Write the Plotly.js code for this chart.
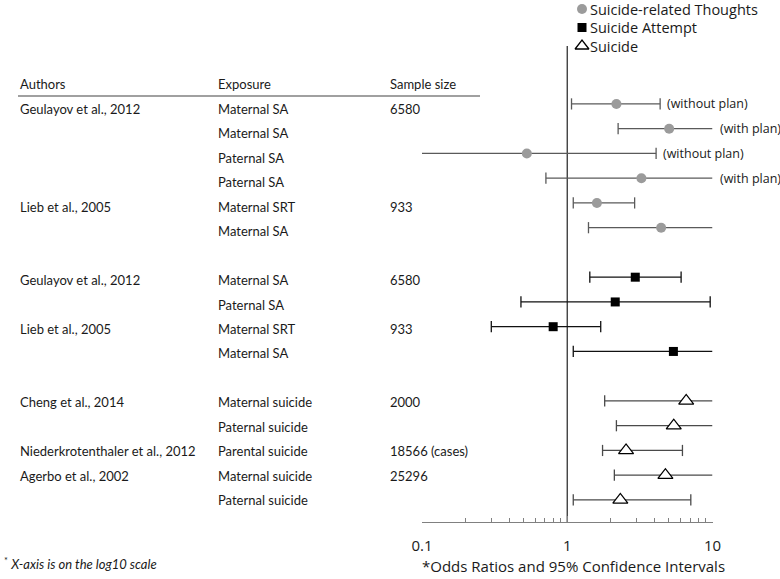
<!DOCTYPE html>
<html>
<head>
<meta charset="utf-8">
<script src="https://cdn.plot.ly/plotly-3.0.1.min.js"></script>
<style>html,body{margin:0;padding:0;background:#fff;}#chart{width:780px;height:579px;}</style>
</head>
<body>
<div id="chart"></div>
<script>
// ---- Data ----
const authors = ["Geulayov et al., 2012", "", "", "", "Lieb et al., 2005", "", "",
  "Geulayov et al., 2012", "", "Lieb et al., 2005", "", "",
  "Cheng et al., 2014", "", "Niederkrotenthaler et al., 2012", "Agerbo et al., 2002", ""];
const exposures = ["Maternal SA", "Maternal SA", "Paternal SA", "Paternal SA", "Maternal SRT", "Maternal SA", "",
  "Maternal SA", "Paternal SA", "Maternal SRT", "Maternal SA", "",
  "Maternal suicide", "Paternal suicide", "Parental suicide", "Maternal suicide", "Paternal suicide"];
const sampleSizes = ["6580", "", "", "", "933", "", "",
  "6580", "", "933", "", "",
  "2000", "", "18566 (cases)", "25296", ""];
const headers = ["Authors", "Exposure", "Sample size"];
const seriesNames = ["Suicide-related Thoughts", "Suicide Attempt", "Suicide"];

// Suicide-related thoughts (rows 1-6)
const thoughtRows = [1, 2, 3, 4, 5, 6];
const thoughtOR = [2.18, 5.03, 0.527, 3.24, 1.60, 4.43];
const thoughtLo = [1.07, 2.24, 0.10, 0.713, 1.10, 1.40];
const thoughtHi = [4.36, 10, 4.09, 10, 2.91, 10];
const thoughtLoCap = [true, true, false, true, true, true];
const thoughtHiCap = [true, false, true, false, true, false];
const thoughtNotes = ["(without plan)", "(with plan)", "(without plan)", "(with plan)", "", ""];

// Suicide attempt (rows 8-11)
const attemptRows = [8, 9, 10, 11];
const attemptOR = [2.94, 2.14, 0.80, 5.38];
const attemptLo = [1.43, 0.48, 0.30, 1.10];
const attemptHi = [6.08, 9.64, 1.70, 10];
const attemptLoCap = [true, true, true, true];
const attemptHiCap = [true, true, true, false];

// Suicide (rows 13-17)
const suicideRows = [13, 14, 15, 16, 17];
const suicideOR = [6.59, 5.41, 2.54, 4.74, 2.32];
const suicideLo = [1.81, 2.18, 1.75, 2.11, 1.10];
const suicideHi = [10, 10, 6.21, 10, 7.09];
const suicideLoCap = [true, true, true, true, true];
const suicideHiCap = [false, false, true, false, true];

const xTickVals = [0.1, 1, 10];
const xTickText = ["0.1", "1", "10"];
const xMinorVals = [0.2, 0.3, 0.4, 0.5, 0.6, 0.7, 0.8, 0.9, 2, 3, 4, 5, 6, 7, 8, 9];
const xTitle = "*Odds Ratios and 95% Confidence Intervals";
const footnote = "X-axis is on the log10 scale";

// ---- Layout constants ----
const W = 780, H = 579;
const plotTop = 46, plotBottom = 522;        // pixel rows of the forest-plot area
const yTop = -1.34, yBot = 17.89;
const tableFont = "Lato, 'Liberation Sans', Arial, sans-serif";
const sansFont = "'Open Sans', 'DejaVu Sans', sans-serif";

const styles = {
  thought: {line: '#5a5a5a', marker: {symbol: 'circle', size: 10, color: '#9b9b9b'}},
  attempt: {line: '#111111', marker: {symbol: 'square', size: 9, color: '#000000'}},
  suicide: {line: '#4a4a4a', marker: {symbol: 'triangle-up', size: 13, color: '#ffffff', line: {color: '#000000', width: 1.3}}}
};

function ciTraces(rows, lo, hi, loCap, hiCap, color) {
  const lx = [], ly = [], cx = [], cy = [];
  rows.forEach((r, i) => {
    lx.push(lo[i], hi[i], null); ly.push(r, r, null);
    if (loCap[i]) { cx.push(lo[i]); cy.push(r); }
    if (hiCap[i]) { cx.push(hi[i]); cy.push(r); }
  });
  return [
    {x: lx, y: ly, type: 'scatter', mode: 'lines', line: {color: color, width: 1.3},
     showlegend: false, hoverinfo: 'skip', cliponaxis: false},
    {x: cx, y: cy, type: 'scatter', mode: 'markers',
     marker: {symbol: 'line-ns', size: 8, line: {color: color, width: 1.3}},
     showlegend: false, hoverinfo: 'skip', cliponaxis: false}
  ];
}

const traces = [];
// reference line at OR = 1
traces.push({x: [1, 1], y: [yTop, yBot], type: 'scatter', mode: 'lines',
  line: {color: '#333333', width: 1.3}, showlegend: false, hoverinfo: 'skip'});
traces.push(...ciTraces(thoughtRows, thoughtLo, thoughtHi, thoughtLoCap, thoughtHiCap, styles.thought.line));
traces.push(...ciTraces(attemptRows, attemptLo, attemptHi, attemptLoCap, attemptHiCap, styles.attempt.line));
traces.push(...ciTraces(suicideRows, suicideLo, suicideHi, suicideLoCap, suicideHiCap, styles.suicide.line));

traces.push({x: thoughtOR, y: thoughtRows, type: 'scatter', mode: 'markers', name: seriesNames[0],
  marker: styles.thought.marker, cliponaxis: false, showlegend: false});
traces.push({x: attemptOR, y: attemptRows, type: 'scatter', mode: 'markers', name: seriesNames[1],
  marker: styles.attempt.marker, cliponaxis: false, showlegend: false});
traces.push({x: suicideOR, y: suicideRows, type: 'scatter', mode: 'markers', name: seriesNames[2],
  marker: styles.suicide.marker, cliponaxis: false, showlegend: false});

// ---- Legend (drawn on a full-page pixel-unit axis pair) ----
const legendX = 582, legendY0 = 9, legendStep = 18.5;
const legendMarkers = [styles.thought.marker, styles.attempt.marker,
  Object.assign({}, styles.suicide.marker, {size: 12})];
legendMarkers.forEach((mk, i) => {
  traces.push({x: [legendX], y: [legendY0 + i * legendStep], xaxis: 'x2', yaxis: 'y2',
    type: 'scatter', mode: 'markers', marker: mk, name: seriesNames[i], showlegend: false,
    cliponaxis: false, hoverinfo: 'skip'});
});

// ---- Annotations (table) ----
const annotations = [];
const colX = [18, 216, 388];
const tSize = 13;
function tableShift(row) { return -5 + (row - 1) * 0.3; }
headers.forEach((h, c) => {
  annotations.push({text: h, x: colX[c] / W, xref: 'paper', xanchor: 'left', y: 0, yref: 'y',
    yanchor: 'middle', yshift: tableShift(0), showarrow: false, font: {family: tableFont, size: tSize, color: '#1a1a1a'}});
});
[authors, exposures, sampleSizes].forEach((col, c) => {
  col.forEach((t, i) => {
    if (!t) return;
    const row = i + 1;
    annotations.push({text: t, x: colX[c] / W, xref: 'paper', xanchor: 'left', y: row, yref: 'y',
      yanchor: 'middle', yshift: tableShift(row), showarrow: false, font: {family: tableFont, size: tSize, color: '#1a1a1a'}});
  });
});
thoughtNotes.forEach((t, i) => {
  if (!t) return;
  annotations.push({text: t, x: Math.log10(thoughtHi[i]), xref: 'x', xanchor: 'left', xshift: 5,
    y: thoughtRows[i], yref: 'y', yanchor: 'middle', showarrow: false,
    font: {family: sansFont, size: 12.5, color: '#1a1a1a'}});
});
seriesNames.forEach((n, i) => {
  annotations.push({text: n, x: legendX + 7, xref: 'x2', xanchor: 'left', y: legendY0 + i * legendStep, yref: 'y2',
    yanchor: 'middle', borderpad: 0, showarrow: false, font: {family: sansFont, size: 14.5, color: '#1a1a1a'}});
});
annotations.push({text: xTitle, x: 573, xref: 'x2', xanchor: 'center', y: 566, yref: 'y2', yanchor: 'middle',
  showarrow: false, font: {family: sansFont, size: 15, color: '#1a1a1a'}});
annotations.push({text: '<sup>*</sup> <i>' + footnote + '</i>', x: 2, xref: 'x2', xanchor: 'left',
  y: 563, yref: 'y2', yanchor: 'middle', showarrow: false,
  font: {family: tableFont, size: 13, color: '#1a1a1a'}});

const layout = {
  width: W, height: H,
  margin: {l: 0, r: 0, t: 0, b: 0},
  paper_bgcolor: '#ffffff', plot_bgcolor: 'rgba(0,0,0,0)',
  showlegend: false,
  xaxis: {type: 'log', range: [-1, 1], domain: [422 / W, 712.5 / W], anchor: 'y',
    showgrid: false, zeroline: false, showline: true, linecolor: '#808080', linewidth: 1.2,
    tickvals: xTickVals, ticktext: xTickText, ticks: 'inside', ticklen: 6, tickcolor: '#808080', tickwidth: 1,
    minor: {tickvals: xMinorVals, ticks: 'inside', ticklen: 4, tickcolor: '#808080', tickwidth: 1, showgrid: false},
    tickfont: {family: sansFont, size: 15, color: '#1a1a1a'}, ticklabelstandoff: 10,
    automargin: false, fixedrange: true},
  yaxis: {range: [yBot, yTop], domain: [(H - plotBottom) / H, (H - plotTop) / H], anchor: 'x',
    showgrid: false, zeroline: false, showline: false,
    showticklabels: false, ticks: '', automargin: false, fixedrange: true},
  xaxis2: {anchor: 'y2', domain: [0, 1], range: [0, W], visible: false, fixedrange: true},
  yaxis2: {anchor: 'x2', domain: [0, 1], range: [H, 0], visible: false, fixedrange: true},
  shapes: [{type: 'line', xref: 'paper', yref: 'y', x0: 18 / W, x1: 480 / W, y0: 0.677, y1: 0.677,
    line: {color: '#808080', width: 1.5}}],
  annotations: annotations
};

Plotly.newPlot('chart', traces, layout, {displayModeBar: false, staticPlot: true});
</script>
</body>
</html>
